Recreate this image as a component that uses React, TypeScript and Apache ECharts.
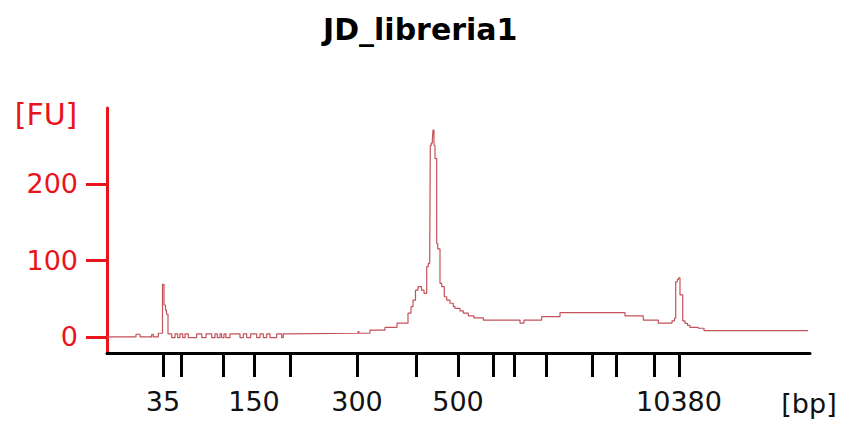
import React, { useEffect, useRef } from "react";
import * as echarts from "echarts";

// Migration time (s) at which each ladder size elutes, and the sizes themselves
const ladderTimes = [25.6, 27.4, 31.6, 34.7, 38.3, 45.0, 50.9, 55.1, 58.6, 60.7, 63.9, 68.5, 70.9, 74.7, 77.2];
const ladderSizes = [35, 50, 100, 150, 200, 300, 400, 500, 700, 1000, 1500, 2000, 3000, 7000, 10380];
const labeledSizes = [35, 150, 300, 500, 10380];
const yTicks = [0, 100, 200];

// Electropherogram trace: migration time (s) and fluorescence (FU), step-wise
const migrationTime = [
  20.0, 22.9, 23.3, 24.47, 24.63, 25.13, 25.55, 25.7, 25.85, 25.95, 26.1,
  26.47, 26.8, 27.07, 27.3, 27.57, 27.8, 28.13, 28.97, 29.47, 29.9, 30.47, 30.8,
  31.03, 31.3, 31.47, 31.7, 31.9, 32.3, 33.3, 33.63, 33.97, 34.37, 34.97, 35.3,
  35.63, 35.97, 36.3, 36.97, 37.47, 37.63, 37.9,
  45.1, 45.2, 46.3, 47.8, 49.0, 50.1, 50.4, 50.6, 50.85, 51.1, 51.45, 51.7,
  51.97, 52.13, 52.27, 52.33, 52.43, 52.53, 52.6, 52.7, 52.8, 52.97, 53.07,
  53.3, 53.47, 53.73, 53.97, 54.3, 54.63, 54.8, 55.3, 55.63, 56.13, 56.7,
  57.63, 61.3, 61.7, 63.47, 65.3, 71.8, 73.63, 75.13, 76.5, 76.75, 76.87,
  77.03, 77.15, 77.3, 77.57, 77.8, 78.05, 78.3, 79.13, 79.7, 90.1,
];
const fluorescence = [
  0, 3.5, 0, 3.5, 0, 4.8, 68.7, 41.7, 35, 29.6, 4,
  -1, 4, -1, 4, -1, 4, -1, 4, -1, 4, -1, 4,
  -1, 4, -1, 4, -1, 4, -1, 4, -1, 4, -1, 4,
  -1, 4, -1, 4, -1, 4, 4.8,
  7, 4.8, 9, 12.6, 18, 31, 39.5, 48, 61, 65.6, 61, 57,
  91.7, 96, 100, 250, 253, 257, 270, 250, 233, 122, 115,
  70, 65.6, 52.5, 48, 44, 39.5, 37.4, 34, 31, 27.4, 25,
  22, 18, 22, 26.5, 31.7, 27.4, 22, 18, 21, 24.6, 72,
  75, 77, 55, 21, 17.8, 15, 12.6, 11.3, 8.2, 8.2,
];

const FONT = "DejaVu Sans";
const RED = "#e8141c";

export default function App() {
  const ref = useRef<HTMLDivElement>(null);
  useEffect(() => {
    if (!ref.current) return;
    const chart = echarts.init(ref.current, null, { renderer: "svg" });
    const labeledTimes = labeledSizes.map((s) => ladderTimes[ladderSizes.indexOf(s)]);
    chart.setOption({
      animation: false,
      backgroundColor: "#ffffff",
      title: {
        text: "JD_libreria1",
        left: 318,
        top: 9,
        textStyle: { fontFamily: FONT, fontSize: 30, fontWeight: "bold", color: "#000" },
      },
      grid: { left: 107, right: 32, top: 108, bottom: 71 },
      xAxis: {
        type: "value",
        min: 20,
        max: 90.3,
        axisLine: { onZero: false, lineStyle: { color: "#000", width: 3 } },
        axisTick: { customValues: ladderTimes, length: 24, lineStyle: { color: "#000", width: 3 } },
        axisLabel: {
          customValues: labeledTimes,
          margin: 35,
          fontFamily: FONT,
          fontSize: 27,
          color: "#111",
          formatter: (v: number) => {
            let best = 0;
            ladderTimes.forEach((t, i) => {
              if (Math.abs(t - v) < Math.abs(ladderTimes[best] - v)) best = i;
            });
            return String(ladderSizes[best]);
          },
        },
        splitLine: { show: false },
      },
      yAxis: {
        type: "value",
        min: -21,
        max: 299,
        axisLine: { show: true, onZero: false, lineStyle: { color: RED, width: 3 } },
        axisTick: { show: true, customValues: yTicks, length: 21, lineStyle: { color: RED, width: 3 } },
        axisLabel: { customValues: yTicks, margin: 29, fontFamily: FONT, fontSize: 27, color: RED },
        splitLine: { show: false },
      },
      graphic: [
        {
          type: "text",
          x: 46,
          y: 114,
          style: { text: "[FU]", fill: RED, font: `30px "${FONT}"`, textAlign: "center", textVerticalAlign: "middle" },
        },
        {
          type: "text",
          x: 809,
          y: 403,
          style: { text: "[bp]", fill: "#111", font: `27px "${FONT}"`, textAlign: "center", textVerticalAlign: "middle" },
        },
      ],
      series: [
        {
          type: "line",
          step: "end",
          symbol: "none",
          lineStyle: { color: "#c4525a", width: 1.2 },
          data: migrationTime.map((t, i) => [t, fluorescence[i]]),
        },
      ],
    });
    return () => chart.dispose();
  }, []);
  return <div ref={ref} style={{ position: "fixed", left: 0, top: 0, width: 842, height: 424 }} />;
}
